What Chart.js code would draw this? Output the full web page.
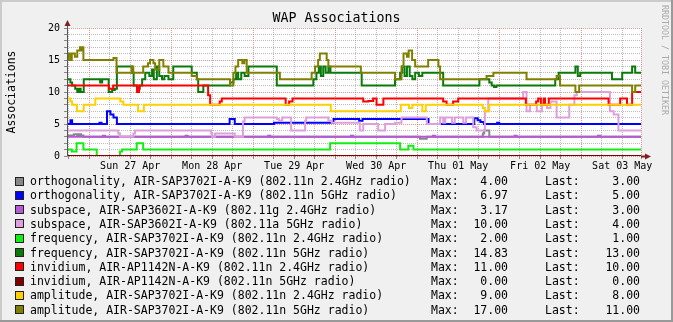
<!DOCTYPE html>
<html>
<head>
<meta charset="utf-8">
<script src="https://cdn.jsdelivr.net/npm/chart.js@4.4.0/dist/chart.umd.min.js"></script>
<style>
  html, body { margin: 0; padding: 0; background: #F0F0F0; }
  #wrap { position: relative; width: 673px; height: 322px; overflow: hidden; }
  #chart { position: absolute; left: 0; top: 0; }
  .lg { position: absolute; height: 14px; line-height: 14px; white-space: pre;
        font-family: "DejaVu Sans Mono", monospace; font-size: 11.5px; color: #000; }
  .sw { position: absolute; width: 7px; height: 7px; border: 1px solid #222; }
</style>
</head>
<body>
<div id="wrap">
  <canvas id="chart" width="673" height="322"></canvas>
</div>
<script>
// WAP associations, one week (x = hours since Sat 26 Apr 00:00)
const X_MIN = 17.5;
const X_MAX = 185.5;

const dayLabels = ['Sun 27 Apr', 'Mon 28 Apr', 'Tue 29 Apr', 'Wed 30 Apr', 'Thu 01 May', 'Fri 02 May', 'Sat 03 May'];
const dayNoonHours = [36, 60, 84, 108, 132, 156, 180];

// step series: [hour, value] - value holds until the next point
const ortho24 = [[17.5,3.2],[19.5,3.4],[20.5,3.2],[21.0,3.4],[21.6,3.2],[22.3,3],[120.8,2.7],[122.8,3],[139.2,3.5],[139.6,4],[141.1,3],[185.5,3]];
const ortho5 = [[17.5,5],[18.5,5.6],[19.0,5],[27.0,5.2],[27.6,5],[29.2,7],[30.2,6.5],[31.1,6],[32.1,5],[65.1,5.8],[66.6,5],[78.1,5.2],[95.5,5.8],[103.0,5.5],[104.0,5.8],[123.3,5],[136.7,5.9],[137.7,5.6],[138.5,5.3],[139.5,5],[143.4,5.2],[144.0,5],[185.5,5]];
const subspace24 = [[17.5,3],[28.0,3.17],[28.6,3],[52.2,3.17],[52.8,3],[76.4,3.17],[77.0,3],[100.6,3.17],[101.2,3],[124.6,3.17],[125.2,3],[148.5,3.17],[149.1,3],[172.9,3.17],[173.6,3],[185.5,3]];
const subspace5 = [[17.5,4],[32.5,3.5],[33.0,3],[36.9,3.5],[37.4,4],[59.7,3.5],[60.0,3],[60.8,3.5],[66.6,3],[69.0,5.4],[69.5,6],[78.9,5.8],[79.5,5.5],[80.5,6],[83.1,4],[87.2,5.5],[87.5,6],[94.0,5.5],[95.0,5.2],[103.2,4],[104.2,5],[108.6,4],[110.6,5],[113.5,5.2],[115.4,6],[122.8,5],[126.7,6],[127.6,5.2],[128.2,6],[130.2,5.2],[131.0,6],[133.5,5.2],[134.3,6],[136.4,4.5],[137.4,4],[139.8,7],[140.8,9],[151.0,10],[152.0,7],[153.0,8],[155.0,7],[156.5,8],[158.0,7.5],[159.0,8.5],[160.8,6],[164.5,8],[166.0,9.5],[166.7,10],[176.4,7],[177.5,6.5],[178.9,4],[185.5,4]];
const freq24 = [[17.5,1],[18.9,0.7],[20.3,2],[22.3,1],[26.2,0],[33.0,0.7],[33.6,1],[37.9,2],[39.8,1],[94.5,2],[115.0,1],[117.4,1.6],[118.9,1],[185.5,1]];
const freq5 = [[17.5,12],[18.5,11.5],[19.0,11],[19.9,10.5],[20.5,10],[21.0,10.5],[21.5,10],[22.4,12],[27.2,11.5],[27.8,12],[29.7,10],[30.7,10.3],[31.5,10.5],[32.1,14],[36.5,13],[37.0,11],[38.0,10.5],[38.8,11],[39.5,12],[40.4,13],[41.6,12.5],[42.4,13.5],[42.9,12],[43.8,14],[44.5,12.5],[45.3,12],[46.0,12.5],[47.2,12],[48.6,14],[54.0,13],[55.5,12],[55.9,10],[57.4,11],[65.2,11.5],[66.2,12],[67.0,13],[67.6,12],[68.5,13],[69.5,12.5],[70.6,14],[78.9,11],[89.6,12],[90.5,13],[91.2,14],[91.8,12.5],[92.5,14],[93.2,13],[94.0,14],[94.6,13],[103.75,11],[113.5,12],[115.0,13],[115.6,14],[116.3,12.5],[117.0,14],[117.8,12.5],[118.6,12],[119.4,13],[120.5,12.5],[121.5,13],[127.6,11],[138.2,12],[141.1,11.5],[141.8,11],[142.5,10.8],[143.2,11],[160.4,12],[161.4,13],[166.3,14],[167.0,12.5],[167.7,13],[177.0,12],[180.0,13],[182.9,14],[183.8,13],[185.5,13]];
const invid24 = [[17.5,11],[29.8,10.5],[31.0,11],[38.0,10],[38.6,11],[58.8,9.5],[59.4,8],[62.2,8.5],[62.8,9],[81.5,8],[82.5,8.5],[83.5,9],[104.2,8.5],[105.7,8.6],[107.1,9],[108.1,8],[110.1,9],[127.6,8.5],[128.6,8],[130.5,8.5],[132.0,9],[151.8,8],[154.8,8.5],[155.4,9],[156.2,8],[157.0,9],[157.4,8],[158.5,9],[176.0,8],[179.4,9],[181.4,8],[182.9,10],[185.5,10]];
const invid5 = [[17.5,0],[185.5,0]];
const amp24 = [[17.5,9],[18.5,8.5],[19.0,8],[20.4,7],[22.4,8],[25.8,9],[33.1,8.5],[34.0,8],[38.3,7],[40.0,8],[94.7,7],[115.2,8],[117.6,7.5],[118.6,8],[121.5,7],[122.5,8],[139.2,7.5],[139.8,7],[141.1,8],[185.5,8]];
const amp5 = [[17.5,15],[17.8,16],[18.4,15],[18.9,16],[19.8,15.5],[20.5,16.5],[21.3,17],[21.8,16.5],[22.1,17],[22.3,15],[31.1,15.3],[32.0,13],[36.4,14],[36.9,13],[39.8,14],[41.2,14.5],[41.8,15],[42.8,14.5],[43.3,13.5],[44.5,15],[45.7,14],[47.2,13],[54.0,12.5],[55.5,12],[65.2,11],[66.2,13],[66.8,14],[67.6,15],[68.8,14.5],[69.4,15],[70.1,13],[79.8,12],[89.1,13],[90.1,14],[91.0,15],[91.5,16],[93.5,15],[94.0,14],[103.5,13],[113.5,12],[115.4,14],[116.0,16],[117.0,15.5],[117.5,16.5],[118.5,15],[119.4,14],[123.2,15],[126.2,14],[126.7,12],[140.3,12.5],[142.3,13],[152.0,12],[160.8,12.5],[161.8,11],[166.3,10],[167.4,11],[182.9,10],[183.8,11],[185.5,11]];

const series = [ortho24, ortho5, subspace24, subspace5, freq24, freq5, invid24, invid5, amp24, amp5];
const lineColors = ['#888888', '#0000FF', '#B45AD2', '#DDA0DD', '#11EE11', '#0A7A0A', '#FF0000', '#800000', '#FFD000', '#808000'];
const legendNames = [
  'orthogonality, AIR-SAP3702I-A-K9 (802.11n 2.4GHz radio)',
  'orthogonality, AIR-SAP3702I-A-K9 (802.11n 5GHz radio)',
  'subspace, AIR-SAP3602I-A-K9 (802.11g 2.4GHz radio)',
  'subspace, AIR-SAP3602I-A-K9 (802.11a 5GHz radio)',
  'frequency, AIR-SAP3702I-A-K9 (802.11n 2.4GHz radio)',
  'frequency, AIR-SAP3702I-A-K9 (802.11n 5GHz radio)',
  'invidium, AIR-AP1142N-A-K9 (802.11n 2.4GHz radio)',
  'invidium, AIR-AP1142N-A-K9 (802.11n 5GHz radio)',
  'amplitude, AIR-SAP3702I-A-K9 (802.11n 2.4GHz radio)',
  'amplitude, AIR-SAP3702I-A-K9 (802.11n 5GHz radio)'
];
const maxValues = ['4.00', '6.97', '3.17', '10.00', '2.00', '14.83', '11.00', '0.00', '9.00', '17.00'];
const lastValues = ['3.00', '5.00', '3.00', '4.00', '1.00', '13.00', '10.00', '0.00', '8.00', '11.00'];

const MONO = '"DejaVu Sans Mono", monospace';
const GRID = 'rgba(143,143,143,0.6)';
const MGRID = 'rgba(222,80,80,0.6)';

// grid every 6 hours, plus the right edge
const gridHours = [];
for (let h = 18; h <= 180; h += 6) gridHours.push(h);
gridHours.push(X_MAX);

// background, frame, title, watermark, axis arrows
const rrdFrame = {
    id: 'rrdFrame',
    beforeDraw(chart) {
        const c = chart.ctx, a = chart.chartArea;
        c.save();
        c.fillStyle = '#F0F0F0';
        c.fillRect(0, 0, chart.width, chart.height);
        c.fillStyle = '#FFFFFF';
        c.fillRect(a.left, a.top, a.right - a.left, a.bottom - a.top);
        c.fillStyle = '#CBCBCB';
        c.fillRect(0, 0, chart.width, 2);
        c.fillRect(0, 0, 2, chart.height);
        c.fillStyle = '#999999';
        c.fillRect(0, chart.height - 2, chart.width, 2);
        c.fillRect(chart.width - 2, 0, 2, chart.height);

        c.fillStyle = '#000';
        c.font = '13.3px ' + MONO;
        c.textAlign = 'center';
        c.textBaseline = 'middle';
        c.fillText('WAP Associations', 336.5, 19);

        c.translate(664, 5);
        c.rotate(Math.PI / 2);
        c.fillStyle = '#AAAAAA';
        c.font = '8.3px ' + MONO;
        c.textAlign = 'left';
        c.fillText('RRDTOOL / TOBI OETIKER', 0, 0);
        c.restore();
    },
    afterDraw(chart) {
        const c = chart.ctx, a = chart.chartArea;
        c.save();
        c.strokeStyle = '#555';
        c.lineWidth = 1;
        c.beginPath();
        c.moveTo(a.left + 0.5, a.bottom);
        c.lineTo(a.left + 0.5, a.top - 4);
        c.stroke();
        c.fillStyle = '#7F1F1F';
        c.beginPath();
        c.moveTo(a.left + 0.5, a.top - 8);
        c.lineTo(a.left - 2.5, a.top - 2);
        c.lineTo(a.left + 3.5, a.top - 2);
        c.closePath();
        c.fill();
        c.beginPath();
        c.moveTo(a.right + 10, a.bottom + 0.5);
        c.lineTo(a.right + 4, a.bottom - 2.5);
        c.lineTo(a.right + 4, a.bottom + 3.5);
        c.closePath();
        c.fill();
        c.fillRect(a.right, a.bottom - 0.5, 4, 2);
        c.restore();
    }
};

new Chart(document.getElementById('chart'), {
    type: 'line',
    data: {
        datasets: series.map((pts, i) => ({
            data: pts.map(p => ({ x: p[0], y: p[1] })),
            borderColor: lineColors[i],
            borderWidth: 2,
            stepped: 'before',
            pointRadius: 0,
            fill: false,
            borderJoinStyle: 'miter',
            order: series.length - 1 - i
        }))
    },
    options: {
        responsive: false,
        animation: false,
        devicePixelRatio: 1,
        layout: { padding: { left: 0, top: 28, right: 32, bottom: 146 } },
        plugins: { legend: { display: false }, tooltip: { enabled: false } },
        scales: {
            x: {
                type: 'linear',
                min: X_MIN,
                max: X_MAX,
                afterBuildTicks: s => { s.ticks = gridHours.map(v => ({ value: v })); },
                afterFit: s => { s.height = 20; },
                ticks: {
                    autoSkip: false,
                    maxRotation: 0,
                    padding: 1,
                    color: '#000',
                    font: { family: MONO, size: 10 },
                    callback: v => {
                        const i = dayNoonHours.indexOf(v);
                        return i >= 0 ? dayLabels[i] : '';
                    }
                },
                grid: {
                    color: ctx => {
                        const v = ctx.tick ? ctx.tick.value : 0;
                        return (v % 24 === 0 || v === X_MAX) ? MGRID : GRID;
                    },
                    lineWidth: 1,
                    tickLength: 3,
                    tickColor: '#888'
                },
                border: { display: false, dash: [1, 1] }
            },
            y: {
                min: 0,
                max: 20,
                afterFit: s => { s.width = 67; },
                ticks: {
                    stepSize: 1,
                    autoSkip: false,
                    padding: 4,
                    color: '#000',
                    font: { family: MONO, size: 10 },
                    callback: v => (v % 5 === 0 ? String(v) : '')
                },
                title: {
                    display: true,
                    text: 'Associations',
                    color: '#000',
                    font: { family: MONO, size: 11.5 },
                    padding: { top: 5, bottom: 0 }
                },
                grid: {
                    color: ctx => (ctx.tick && ctx.tick.value % 5 === 0 ? MGRID : GRID),
                    lineWidth: 1,
                    tickLength: 3,
                    tickColor: '#888'
                },
                border: { display: false, dash: [1, 1] }
            }
        }
    },
    plugins: [rrdFrame]
});

// legend rows below the plot
const wrap = document.getElementById('wrap');
legendNames.forEach((name, i) => {
    const cy = 181 + i * 14.3;
    const sw = document.createElement('div');
    sw.className = 'sw';
    sw.style.left = '15px';
    sw.style.top = (cy - 4.5) + 'px';
    sw.style.background = lineColors[i];
    wrap.appendChild(sw);

    const cells = [
        { text: name, left: 30 },
        { text: 'Max:', left: 431 },
        { text: maxValues[i], right: 508 },
        { text: 'Last:', left: 545 },
        { text: lastValues[i], right: 640 }
    ];
    cells.forEach(cell => {
        const d = document.createElement('div');
        d.className = 'lg';
        d.textContent = cell.text;
        d.style.top = (cy - 7) + 'px';
        if (cell.left !== undefined) d.style.left = cell.left + 'px';
        else d.style.right = (673 - cell.right) + 'px';
        wrap.appendChild(d);
    });
});
</script>
</body>
</html>
